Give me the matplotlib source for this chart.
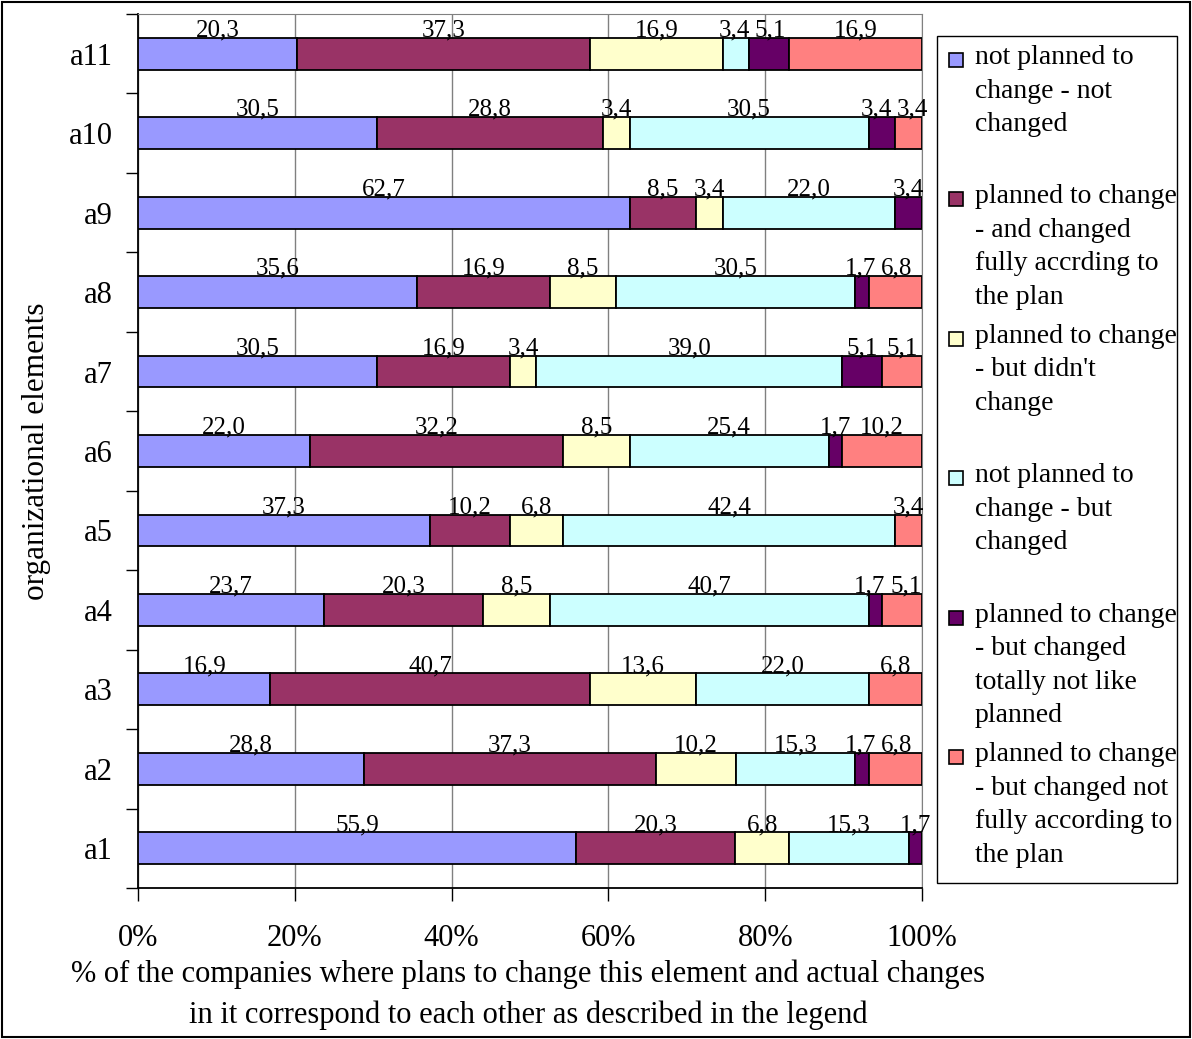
import numpy as np
import matplotlib
matplotlib.use("Agg")
import matplotlib.pyplot as plt
from matplotlib.patches import Rectangle

plt.rcParams['font.family'] = ['Liberation Serif', 'DejaVu Serif']

# elements, bottom to top
elements = ['a1', 'a2', 'a3', 'a4', 'a5', 'a6', 'a7', 'a8', 'a9', 'a10', 'a11']

series_names = [
    'not planned to\nchange - not\nchanged',
    'planned to change\n- and changed\nfully accrding to\nthe plan',
    "planned to change\n- but didn't\nchange",
    'not planned to\nchange - but\nchanged',
    'planned to change\n- but changed\ntotally not like\nplanned',
    'planned to change\n- but changed not\nfully according to\nthe plan',
]
colors = ['#9999FF', '#993366', '#FFFFCC', '#CCFFFF', '#660066', '#FF8080']

not_planned_not_changed = [55.9, 28.8, 16.9, 23.7, 37.3, 22.0, 30.5, 35.6, 62.7, 30.5, 20.3]
planned_changed_fully = [20.3, 37.3, 40.7, 20.3, 10.2, 32.2, 16.9, 16.9, 8.5, 28.8, 37.3]
planned_not_changed = [6.8, 10.2, 13.6, 8.5, 6.8, 8.5, 3.4, 8.5, 3.4, 3.4, 16.9]
not_planned_changed = [15.3, 15.3, 22.0, 40.7, 42.4, 25.4, 39.0, 30.5, 22.0, 30.5, 3.4]
planned_changed_unlike = [1.7, 1.7, 0.0, 1.7, 0.0, 1.7, 5.1, 1.7, 3.4, 3.4, 5.1]
planned_changed_partly = [0.0, 6.8, 6.8, 5.1, 3.4, 10.2, 5.1, 6.8, 0.0, 3.4, 16.9]

series = [not_planned_not_changed, planned_changed_fully, planned_not_changed,
          not_planned_changed, planned_changed_unlike, planned_changed_partly]

xticks = [0, 20, 40, 60, 80, 100]
xtick_labels = ['0%', '20%', '40%', '60%', '80%', '100%']

W, H = 1192, 1039
fig = plt.figure(figsize=(W / 100, H / 100), dpi=100)

def fx(px):
    return px / W

def fy(py):
    return 1 - py / H

ax = fig.add_axes([fx(138), fy(888), fx(922 - 138), (888 - 14) / H])

ypos = np.arange(len(elements))
data = np.array(series)
totals = data.sum(axis=0)
pct_all = data / totals * 100
starts = np.vstack([np.zeros(len(elements)), np.cumsum(pct_all, axis=0)[:-1]])
bar_h = 0.40

for pct, lft, col in zip(pct_all, starts, colors):
    ax.barh(ypos, pct, left=lft, height=bar_h, color=col,
            edgecolor='black', linewidth=1.3, zorder=3)

# value labels above each segment, nudged apart where they would collide
min_gap = 4.6  # in % units, about the width of a short label
for j, y in enumerate(ypos):
    labs = [(starts[k, j] + pct_all[k, j] / 2, data[k, j])
            for k in range(len(series)) if data[k, j] > 0]
    xs = [c for c, _ in labs]
    for n in range(1, len(xs)):
        gap = xs[n] - xs[n - 1]
        if gap < min_gap:
            d = min_gap - gap
            xs[n - 1] -= d * 0.6
            xs[n] += d * 0.4
    for xc, (_, v) in zip(xs, labs):
        ax.annotate(f'{v:.1f}'.replace('.', ','), (xc, y + bar_h / 2),
                    xytext=(0, 1), textcoords='offset points',
                    ha='center', va='baseline', fontsize=18, zorder=4,
                    annotation_clip=False)

ax.set_xlim(0, 100)
ax.set_ylim(-0.5, len(elements) - 0.5)
ax.set_xticks(xticks)
ax.set_xticklabels(xtick_labels, fontsize=22)
ax.tick_params(axis='x', direction='out', length=9, width=1, pad=17, color='black')
ax.set_yticks(ypos)
ax.set_yticklabels(elements, fontsize=22)
ax.set_yticks(np.arange(-0.5, len(elements)), minor=True)
ax.tick_params(axis='y', which='major', length=0, pad=18)
ax.tick_params(axis='y', which='minor', direction='out', length=9, width=1, color='black')
ax.grid(axis='x', color='#808080', linewidth=1, zorder=0)
ax.set_axisbelow(True)
for s in ['top', 'right']:
    ax.spines[s].set_color('#808080')
for s in ['left', 'bottom']:
    ax.spines[s].set_color('black')
    ax.spines[s].set_linewidth(1.3)

fig.text(fx(37), fy(451), 'organizational elements', rotation=90,
         ha='center', va='center', fontsize=22.5)
fig.text(fx(528), fy(995),
         '% of the companies where plans to change this element and actual changes\n'
         'in it correspond to each other as described in the legend',
         ha='center', va='center', fontsize=22, linespacing=1.5,
         multialignment='center')

# legend box drawn by hand, Excel style
fig.patches.append(Rectangle((fx(937), fy(883)), fx(1177 - 937), (883 - 36) / H,
                             transform=fig.transFigure, facecolor='white',
                             edgecolor='black', linewidth=1))
for i, (name, col) in enumerate(zip(series_names, colors)):
    y0 = 60 + 139.4 * i
    fig.patches.append(Rectangle((fx(949), fy(y0 + 7)), fx(14), 14 / H,
                                 transform=fig.transFigure, facecolor=col,
                                 edgecolor='black', linewidth=1.2))
    fig.text(fx(975), fy(y0 - 15), name, ha='left', va='top', fontsize=20,
             linespacing=1.45)

# outer border
fig.patches.append(Rectangle((fx(2), fy(1037)), fx(1188), 1035 / H,
                             transform=fig.transFigure, fill=False,
                             edgecolor='black', linewidth=1.5))

fig.savefig('out.png', dpi=100)
